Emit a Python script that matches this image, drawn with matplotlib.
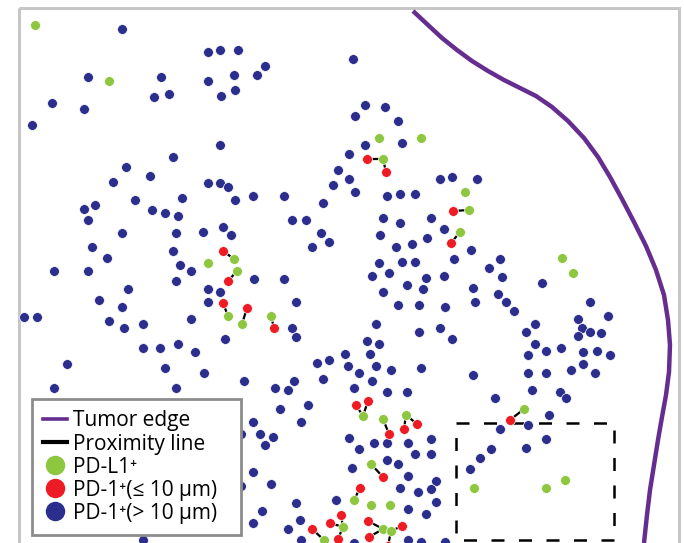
import numpy as np
import matplotlib
matplotlib.use('Agg')
import matplotlib.pyplot as plt
from matplotlib.patches import Rectangle
from matplotlib.lines import Line2D

plt.rcParams['font.family'] = ['Open Sans', 'DejaVu Sans']

# cell positions (image pixel units, y downwards)
blue_pts = [
    (122, 29), (88, 77), (161, 77), (52, 103), (84, 109), (154, 97), (169, 94), (32, 125),
    (173, 157), (126, 167), (150, 176), (113, 182),
    (208, 52), (220, 50), (238, 50), (265, 66), (257, 75), (234, 75), (208, 81), (235, 90),
    (221, 96), (220, 145), (338, 170), (208, 183), (220, 183), (228, 187),
    (353, 59), (365, 105), (385, 107), (355, 116), (398, 121), (365, 145), (402, 143),
    (349, 154), (349, 179), (440, 179), (452, 177), (477, 179),
    (355, 192), (387, 196), (400, 194), (415, 194), (383, 218), (400, 223), (431, 218),
    (444, 229), (380, 235), (427, 238), (412, 244), (396, 247), (471, 250), (454, 259),
    (500, 259), (489, 268), (379, 263), (402, 262), (415, 262), (389, 273), (372, 276),
    (426, 278), (444, 276), (502, 277), (407, 285), (423, 289), (383, 292), (473, 288),
    (498, 294), (475, 302), (506, 302), (514, 311), (398, 305), (419, 305), (445, 307),
    (376, 324), (440, 328), (419, 332), (452, 339), (367, 341), (379, 344), (345, 354),
    (370, 354),
    (542, 283), (590, 302), (535, 324), (526, 332), (578, 319), (608, 316), (582, 328),
    (590, 332), (601, 333), (578, 336), (535, 344), (528, 355), (546, 351), (561, 348),
    (583, 352), (597, 351), (610, 355), (583, 364),
    (528, 373), (546, 373), (571, 370), (595, 373), (532, 390), (560, 392), (566, 398),
    (549, 415), (528, 425), (546, 439), (526, 448),
    (84, 209), (95, 205), (135, 200), (152, 210), (165, 213), (88, 220), (122, 233),
    (173, 251), (92, 247), (107, 258), (54, 271), (88, 271), (128, 289), (99, 300),
    (122, 307), (24, 317), (37, 317), (109, 321), (124, 328), (143, 324), (143, 348),
    (160, 348), (67, 364),
    (182, 198), (235, 200), (253, 196), (284, 196), (333, 185), (323, 203), (178, 216),
    (292, 220), (306, 220), (176, 233), (203, 232), (223, 227), (231, 235), (321, 233),
    (329, 242), (312, 247), (180, 265), (191, 271), (176, 281), (254, 279), (284, 279),
    (208, 289), (220, 292), (208, 302), (296, 302), (191, 319), (292, 328), (296, 337),
    (225, 339), (178, 344), (195, 352), (317, 363), (329, 360),
    (54, 388), (165, 368), (143, 540), (204, 373), (176, 388), (244, 381), (275, 388),
    (288, 390), (294, 381), (323, 379), (280, 409), (308, 405), (301, 422), (253, 422),
    (241, 434), (260, 434), (273, 437), (265, 445), (253, 472), (241, 486), (271, 484),
    (296, 503), (336, 500), (262, 511), (253, 523), (300, 520), (288, 529), (301, 540),
    (348, 366), (359, 373), (376, 366), (391, 370), (421, 368), (473, 375), (495, 398),
    (354, 388), (372, 381), (387, 392), (407, 392), (500, 429), (349, 438), (374, 443),
    (387, 443), (408, 443), (431, 439), (359, 449), (415, 454), (431, 454), (491, 449),
    (480, 458), (470, 469), (387, 460), (398, 464), (352, 468), (408, 476), (436, 481),
    (400, 488), (418, 492), (431, 489), (436, 502), (408, 509), (426, 514), (408, 540),
    (421, 542), (445, 542), (354, 543),
]
green_pts = [
    (35, 25), (109, 81), (379, 138), (421, 138), (465, 192), (208, 263), (562, 258),
    (573, 273), (546, 488), (565, 480), (474, 488), (371, 505), (390, 505),
    (383, 159), (469, 210), (460, 232), (234, 259), (237, 271), (228, 316), (242, 324),
    (271, 316), (363, 416), (383, 419), (406, 415), (371, 464), (354, 500), (524, 409),
    (383, 529), (391, 531), (324, 540), (343, 527),
]
red_pts = [
    (367, 159), (386, 172), (453, 211), (451, 243), (223, 251), (228, 281), (223, 303),
    (247, 308), (274, 328), (356, 405), (368, 401), (389, 434), (417, 424), (404, 429),
    (383, 477), (360, 488), (510, 420), (312, 529), (330, 523), (341, 515), (338, 539),
    (368, 521), (369, 537), (402, 526), (388, 546),
]
# proximity links: red cell -> green cell
link_red = [(367, 159), (386, 172), (453, 211), (451, 243), (223, 251), (228, 281),
            (223, 303), (247, 308), (274, 328), (356, 405), (368, 401), (389, 434),
            (417, 424), (404, 429), (383, 477), (360, 488), (510, 420), (312, 529),
            (330, 523), (341, 515), (338, 539), (368, 521), (369, 537), (402, 526),
            (388, 546)]
link_green = [(383, 159), (383, 159), (469, 210), (460, 232), (234, 259), (237, 271),
              (228, 316), (242, 324), (271, 316), (363, 416), (363, 416), (383, 419),
              (406, 415), (406, 415), (371, 464), (354, 500), (524, 409), (324, 540),
              (343, 527), (343, 527), (343, 527), (383, 529), (383, 529), (391, 531),
              (391, 531)]

edge_x = [413, 428, 442, 457, 472, 488, 504, 520, 536, 552, 568, 584, 598, 610, 622,
          634, 646, 656, 664, 668, 670, 669, 666, 662, 658, 654, 650, 647, 644]
edge_y = [11, 25, 38, 50, 61, 71, 80, 88, 96, 107, 121, 138, 157, 177, 199,
          222, 246, 270, 295, 320, 345, 372, 395, 417, 440, 465, 490, 515, 543]

roi_x = [456, 614]
roi_y = [423, 540]

c_blue = '#2b2e8c'
c_green = '#8dc63f'
c_red = '#ed1c24'
c_purple = '#662d91'

fig = plt.figure(figsize=(6.84, 5.43), dpi=100)
ax = fig.add_axes([0, 0, 1, 1])
ax.set_xlim(0, 684)
ax.set_ylim(543, 0)
ax.axis('off')

ax.add_patch(Rectangle((19, 8), 660, 560, fill=False, ec='#c6c6c6', lw=2.2, zorder=0))

ax.plot(edge_x, edge_y, color=c_purple, lw=3.2, solid_capstyle='butt',
        solid_joinstyle='round', zorder=1)

ax.add_patch(Rectangle((roi_x[0], roi_y[0]), roi_x[1] - roi_x[0], roi_y[1] - roi_y[0],
                       fill=False, ec='black', lw=1.8, ls=(0, (5.2, 5.8)), zorder=1))

for r, g in zip(link_red, link_green):
    ax.plot([r[0], g[0]], [r[1], g[1]], color='black', lw=1.6, zorder=2)

for pts, col in [(blue_pts, c_blue), (green_pts, c_green), (red_pts, c_red)]:
    p = np.array(pts)
    ax.scatter(p[:, 0], p[:, 1], s=50, c=col, edgecolors='white', linewidths=0.5, zorder=3)

handles = [
    Line2D([], [], color=c_purple, lw=2.6),
    Line2D([], [], color='black', lw=3),
    Line2D([], [], ls='', marker='o', ms=13, mfc=c_green, mec=c_green),
    Line2D([], [], ls='', marker='o', ms=13, mfc=c_red, mec=c_red),
    Line2D([], [], ls='', marker='o', ms=13, mfc=c_blue, mec=c_blue),
]
labels = ['Tumor edge', 'Proximity line', 'PD-L1\u207a',
          'PD-1\u207a(\u2264 10 \u03bcm)', 'PD-1\u207a(> 10 \u03bcm)']
leg = ax.legend(handles, labels, loc='upper left', mode='expand',
                bbox_to_anchor=(32 / 684, 1 - 535 / 543, 209 / 684, 136 / 543),
                fontsize=15, frameon=True, fancybox=False, edgecolor='#8c8c8c',
                handlelength=1.15, handletextpad=0.28, labelspacing=0.1,
                borderpad=0.55, borderaxespad=0, framealpha=1)
leg.get_frame().set_linewidth(2)
leg.set_zorder(5)

fig.savefig('out.png', dpi=100)
